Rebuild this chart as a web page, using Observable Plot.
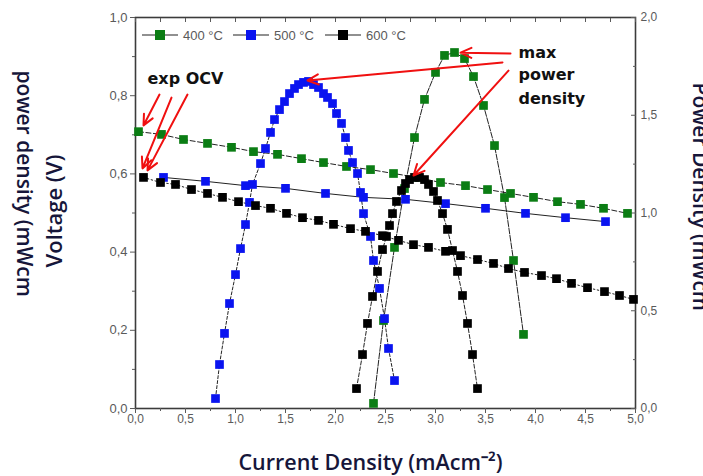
<!DOCTYPE html>
<html><head><meta charset="utf-8">
<script src="https://cdn.jsdelivr.net/npm/d3@7"></script>
<script src="https://cdn.jsdelivr.net/npm/@observablehq/plot@0.6"></script>
<style>html,body{margin:0;padding:0;background:#fff;overflow:hidden}</style>
</head><body><div id="chart"></div>
<script>
// ---------- series ----------
const seriesNames = ["400 °C", "500 °C", "600 °C"];
const seriesColors = ["#0b7d14", "#0a14f0", "#000000"];

// ---------- Voltage vs current density (left axis, V) ----------
const vI400 = [0.03,0.26,0.48,0.72,0.96,1.18,1.42,1.66,1.88,2.11,2.35,2.58,2.82,3.05,3.30,3.52,3.75,3.98,4.22,4.45,4.68,4.92];
const vV400 = [0.708,0.701,0.688,0.678,0.668,0.657,0.650,0.639,0.629,0.619,0.611,0.601,0.591,0.578,0.570,0.560,0.550,0.540,0.529,0.522,0.512,0.499];
const vI500 = [0.28,0.70,1.10,1.50,1.90,2.28,2.70,3.10,3.50,3.90,4.30,4.70];
const vV500 = [0.591,0.581,0.570,0.563,0.550,0.540,0.535,0.524,0.512,0.499,0.488,0.478];
const vI600 = [0.08,0.25,0.40,0.56,0.72,0.87,1.03,1.20,1.35,1.51,1.67,1.83,1.98,2.15,2.30,2.47,2.63,2.78,2.93,3.10,3.25,3.42,3.58,3.73,3.89,4.06,4.21,4.36,4.52,4.69,4.84,4.98];
const vV600 = [0.591,0.578,0.573,0.560,0.550,0.540,0.529,0.519,0.512,0.499,0.488,0.481,0.471,0.460,0.453,0.442,0.430,0.419,0.412,0.402,0.391,0.381,0.371,0.358,0.348,0.340,0.332,0.320,0.309,0.299,0.289,0.279];

// ---------- Power density vs current density (right axis) ----------
const pI400 = [2.38,2.48,2.59,2.69,2.79,2.89,3.00,3.09,3.19,3.29,3.38,3.48,3.59,3.69,3.78,3.88];
const pP400 = [0.026,0.450,0.824,1.125,1.386,1.581,1.719,1.806,1.821,1.790,1.698,1.550,1.345,1.079,0.757,0.379];
const pI500 = [0.80,0.84,0.89,0.94,1.00,1.05,1.10,1.14,1.17,1.25,1.30,1.35,1.39,1.44,1.49,1.54,1.59,1.63,1.68,1.73,1.78,1.83,1.88,1.92,1.97,2.01,2.06,2.10,2.13,2.17,2.22,2.25,2.28,2.35,2.38,2.44,2.49,2.53,2.59];
const pP500 = [0.051,0.225,0.384,0.537,0.685,0.818,0.941,1.054,1.146,1.253,1.330,1.412,1.478,1.529,1.570,1.611,1.637,1.657,1.668,1.673,1.657,1.642,1.611,1.591,1.560,1.509,1.458,1.386,1.320,1.258,1.202,1.105,0.997,0.880,0.757,0.614,0.460,0.307,0.143];
const pI600 = [2.21,2.27,2.32,2.37,2.42,2.47,2.51,2.54,2.57,2.61,2.66,2.70,2.74,2.79,2.84,2.89,2.93,2.98,3.02,3.07,3.12,3.17,3.22,3.27,3.32,3.37,3.42];
const pP600 = [0.102,0.276,0.435,0.573,0.701,0.813,0.880,0.936,0.997,1.059,1.115,1.151,1.171,1.182,1.182,1.171,1.146,1.110,1.064,0.997,0.916,0.808,0.701,0.578,0.435,0.276,0.102];

// ---------- ticks ----------
const xTicks = [0,0.5,1,1.5,2,2.5,3,3.5,4,4.5,5];
const xMinorTicks = [0.25,0.75,1.25,1.75,2.25,2.75,3.25,3.75,4.25,4.75];
const vTicks = [0,0.2,0.4,0.6,0.8,1.0];
const vMinorTicks = [0.1,0.3,0.5,0.7,0.9];
const pTicks = [0,0.5,1.0,1.5,2.0];
const pMinorTicks = [0.25,0.75,1.25,1.75];

// ---------- annotations (data units: current density, voltage) ----------
const ocvLabel = {text: "exp OCV", x: 0.12, y: 0.844};
const mppLabels = ["max", "power", "density"];
const mppLabelX = 3.83;
const mppLabelY = [0.910, 0.852, 0.793];
const arrowsX1 = [0.24, 0.36, 0.52, 3.75, 3.67, 3.73];
const arrowsY1 = [0.803, 0.795, 0.803, 0.908, 0.885, 0.864];
const arrowsX2 = [0.08, 0.07, 0.12, 3.25, 1.72, 2.78];
const arrowsY2 = [0.724, 0.614, 0.609, 0.910, 0.839, 0.596];

// ---------- build tables ----------
const viSets = [[vI400, vV400], [vI500, vV500], [vI600, vV600]];
const pSets = [[pI400, pP400], [pI500, pP500], [pI600, pP600]];
const viRows = viSets.flatMap(([I, V], s) => I.map((x, i) => ({s, I: x, V: V[i]})));
const pRows = pSets.flatMap(([I, P], s) => I.map((x, i) => ({s, I: x, P: P[i]})));
const arrows = arrowsX1.map((x1, i) => ({x1, y1: arrowsY1[i], x2: arrowsX2[i], y2: arrowsY2[i]}));
const mppRows = mppLabels.map((t, i) => ({t, x: mppLabelX, y: mppLabelY[i]}));

const fmt = d => d.toFixed(1).replace(".", ",");
const viDash = ["5,2.5", null, "1.5,2.5"];
const pDash = ["6,1.5", "3,2", "4,2"];
const titleFont = "'Open Sans', sans-serif";
const titleColor = "#16163a";

const marks = [
  Plot.frame({stroke: "#3c3c3c", strokeWidth: 1.6}),
  Plot.axisX({ticks: xTicks, tickFormat: fmt, tickSize: 5, tickPadding: 1, label: null, fontSize: 12}),
  Plot.axisX({ticks: xMinorTicks, tickFormat: () => "", tickSize: 3, label: null}),
  Plot.axisX({anchor: "top", ticks: xTicks.concat(xMinorTicks), tickFormat: () => "", tickSize: -4, label: null}),
  Plot.axisY({ticks: vTicks, tickFormat: fmt, tickSize: 5, tickPadding: 3, label: null, fontSize: 13}),
  Plot.axisY({ticks: vMinorTicks, tickFormat: () => "", tickSize: 3, label: null}),
  Plot.axisY({anchor: "right", ticks: pTicks.map(p => p / 2), tickFormat: d => fmt(d * 2), tickSize: -5, tickPadding: 10, label: null, fontSize: 12}),
  Plot.axisY({anchor: "right", ticks: pMinorTicks.map(p => p / 2), tickFormat: () => "", tickSize: -3, label: null})
];
for (let s = 0; s < 3; s++) {
  marks.push(Plot.line(viRows.filter(d => d.s === s), {x: "I", y: "V", stroke: "#222", strokeWidth: 1, strokeDasharray: viDash[s]}));
  marks.push(Plot.line(pRows.filter(d => d.s === s), {x: "I", y: d => d.P / 2, stroke: "#222", strokeWidth: 1, strokeDasharray: pDash[s]}));
}
for (let s = 0; s < 3; s++) {
  marks.push(Plot.dot(viRows.filter(d => d.s === s), {x: "I", y: "V", symbol: "square", r: 4.9, fill: seriesColors[s]}));
  marks.push(Plot.dot(pRows.filter(d => d.s === s), {x: "I", y: d => d.P / 2, symbol: "square", r: 4.9, fill: seriesColors[s]}));
}
marks.push(
  Plot.arrow(arrows, {x1: "x1", y1: "y1", x2: "x2", y2: "y2", stroke: "#f01010", strokeWidth: 2, headLength: 9, headAngle: 50}),
  Plot.text([ocvLabel], {x: "x", y: "y", text: "text", textAnchor: "start", fontSize: 16, fontWeight: "bold", fill: "#111", fontFamily: "DejaVu Sans"}),
  Plot.text(mppRows, {x: "x", y: "y", text: "t", textAnchor: "start", fontSize: 16, fontWeight: "bold", fill: "#111", fontFamily: "DejaVu Sans"}),
  Plot.text(["Voltage (V)"], {frameAnchor: "left", dx: -81, dy: -2, rotate: -90, textAnchor: "middle", lineAnchor: "middle", text: d => d, fontSize: 22, fontWeight: 600, fill: titleColor, fontFamily: titleFont}),
  Plot.text(["Current Density (mAcm⁻²)"], {frameAnchor: "bottom", dx: -15, dy: 55, textAnchor: "middle", lineAnchor: "middle", text: d => d, fontSize: 21.5, fontWeight: 600, fill: titleColor, fontFamily: titleFont}),
  Plot.text(["power density (mWcm"], {frameAnchor: "top-left", dx: -112, dy: 53, rotate: 90, textAnchor: "start", lineAnchor: "middle", text: d => d, fontSize: 21, fontWeight: 600, fill: titleColor, fontFamily: titleFont}),
  Plot.text(["Power Density (mWcm"], {frameAnchor: "top-right", dx: 64, dy: 65, rotate: 90, textAnchor: "start", lineAnchor: "middle", text: d => d, fontSize: 21, fontWeight: 600, fill: titleColor, fontFamily: titleFont})
);

const chart = Plot.plot({
  width: 703, height: 476,
  marginLeft: 135, marginRight: 68, marginTop: 17, marginBottom: 68,
  x: {domain: [0, 5]},
  y: {domain: [0, 1]},
  style: {fontFamily: "'Liberation Sans', Arial, sans-serif", fontSize: "12px", color: "#5a5a5a", background: "white"},
  marks
});
document.getElementById("chart").appendChild(chart);

// legend inside the frame
const svg = d3.select(chart);
const lg = svg.append("g").attr("font-family", "'Liberation Sans', Arial, sans-serif").attr("font-size", 13).attr("fill", "#5a5a5a").attr("text-anchor", "start");
const legendX = [142, 233, 325];
seriesNames.forEach((name, i) => {
  const x0 = legendX[i];
  lg.append("line").attr("x1", x0).attr("x2", x0 + 36).attr("y1", 35).attr("y2", 35).attr("stroke", "#222").attr("stroke-width", 1.2);
  lg.append("rect").attr("x", x0 + 18 - 5).attr("y", 30).attr("width", 10).attr("height", 10).attr("fill", seriesColors[i]);
  lg.append("text").attr("x", x0 + 41).attr("y", 39.5).text(name);
});
</script></body></html>
